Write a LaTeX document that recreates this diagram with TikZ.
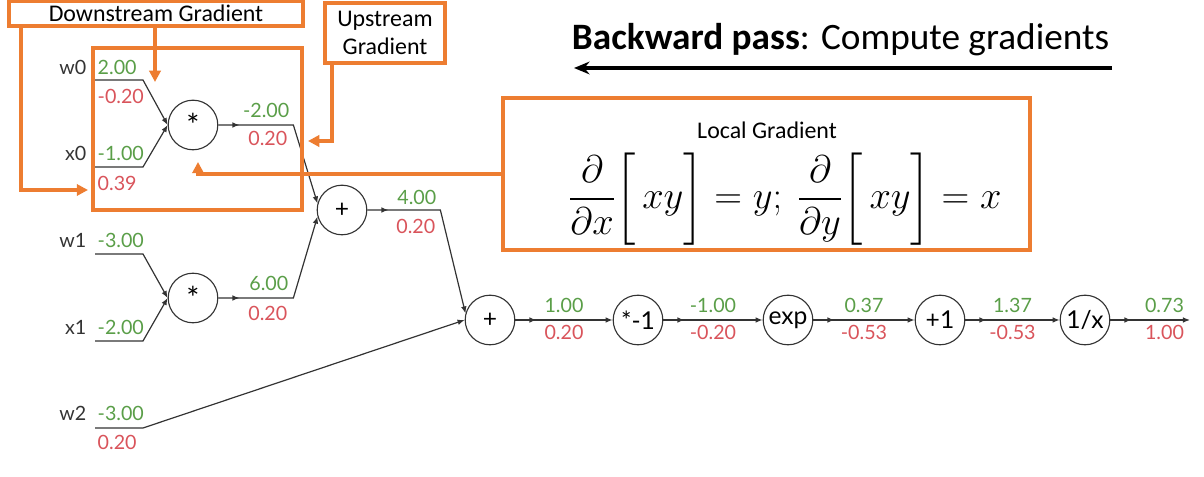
\documentclass[tikz,border=0pt]{standalone}
\usepackage{amsmath}
\usepackage{graphicx}
\usepackage{fontspec}
\setmainfont{Carlito}
\newfontfamily\graphfont{Lato}
\usepackage{tikz}
\usetikzlibrary{arrows.meta,positioning,calc,decorations.markings}
\definecolor{gradorange}{HTML}{ED7D31}
\definecolor{fwdgreen}{HTML}{5A9E48}
\definecolor{bwdred}{HTML}{D9545B}
\definecolor{wiregray}{HTML}{333333}
\newcommand{\brxy}{\mathopen{\smash{\biggl[}}\,xy\mathclose{\smash{\biggr]}}}

\begin{document}
\begin{tikzpicture}[
    x=0.025cm, y=-0.025cm,
    >={Latex[length=5pt,width=4pt]},
    every node/.style={font=\graphfont\fontsize{14}{16}\selectfont},
    gate/.style={circle, draw=wiregray, line width=0.8pt, minimum size=1.24cm, inner sep=0pt, font=\graphfont\fontsize{17.5}{20}\selectfont},
    varname/.style={text=wiregray, anchor=east, inner sep=1pt},
    fwd/.style={text=fwdgreen, inner sep=1pt},
    bwd/.style={text=bwdred, inner sep=1pt},
    wire/.style={draw=wiregray, line width=0.85pt, ->},
    outwire/.style={wire, postaction={decorate},
        decoration={markings, mark=at position 15pt with {\arrow{>}}}},
    callout/.style={draw=gradorange, line width=2.6pt, inner sep=0pt, text=black,
        font=\fontsize{17}{20.5}\selectfont},
    calloutarrow/.style={draw=gradorange, line width=2.6pt, -{Triangle[length=8pt,width=8pt]}}
]
\useasboundingbox (0,0) rectangle (1204,477);

% inputs
\node[varname] (w0) at (88,67) {w0};
\node[varname] (x0) at (88,153) {x0};
\node[varname] (w1) at (88,240) {w1};
\node[varname] (x1) at (88,327) {x1};
\node[varname] (w2) at (88,413) {w2};

\coordinate (w0s) at (95,80);
\coordinate (x0s) at (95,167);
\coordinate (w1s) at (95,254);
\coordinate (x1s) at (95,341);
\coordinate (w2s) at (95,428);

\node[fwd, anchor=west] (w0f) at (96,67) {2.00};
\node[bwd, anchor=west] (w0b) at (96,96) {-0.20};
\node[fwd, anchor=west] (x0f) at (96,153) {-1.00};
\node[bwd, anchor=west] (x0b) at (96,183) {0.39};
\node[fwd, anchor=west] (w1f) at (96,240) {-3.00};
\node[fwd, anchor=west] (x1f) at (96,327) {-2.00};
\node[fwd, anchor=west] (w2f) at (96,413) {-3.00};
\node[bwd, anchor=west] (w2b) at (96,442) {0.20};

% gates
\node[gate] (mul0) at (193,125) {\raisebox{-3pt}{\fontsize{22}{22}\selectfont *}};
\node[gate] (mul1) at (193,298) {\raisebox{-3pt}{\fontsize{22}{22}\selectfont *}};
\node[gate] (add0) at (342,210) {+};
\node[gate] (add1) at (490,320) {+};
\node[gate] (neg)  at (638,320) {*-1};
\node[gate] (expg) at (788,320) {exp};
\node[gate] (inc)  at (940,320) {+1};
\node[gate] (inv)  at (1085,320) {1/x};
\coordinate (out) at (1190,320);

\draw[wire] (w0s) -- ++(48,0) -- (mul0.west);
\draw[wire] (x0s) -- ++(48,0) -- (mul0.west);
\draw[wire] (w1s) -- ++(48,0) -- (mul1.west);
\draw[wire] (x1s) -- ++(48,0) -- (mul1.west);
\draw[wire] (w2s) -- ++(48,0) -- (add1.west);

\draw[outwire] (mul0.east) -- ++(75,0) -- (add0.165);
\draw[outwire] (mul1.east) -- ++(75,0) -- (add0.195);
\draw[outwire] (add0.east) -- ++(73,0) -- (add1.165);

\node[fwd, anchor=east] (m0f) at (291,110) {-2.00};
\node[bwd, anchor=east] (m0b) at (289,138) {0.20};
\node[fwd, anchor=east] (m1f) at (290,283) {6.00};
\node[bwd, anchor=east] (m1b) at (289,313) {0.20};
\node[fwd, anchor=east] (a0f) at (438,197) {4.00};
\node[bwd, anchor=east] (a0b) at (437,226) {0.20};

\draw[outwire] (add1) -- (neg)
    node[fwd, midway, yshift=10.5pt] (a1f) {1.00} node[bwd, midway, yshift=-9pt] (a1b) {0.20};
\draw[outwire] (neg) -- (expg)
    node[fwd, midway, yshift=10.5pt] (nf) {-1.00} node[bwd, midway, yshift=-9pt] (nb) {-0.20};
\draw[outwire] (expg) -- (inc)
    node[fwd, midway, yshift=10.5pt] (ef) {0.37} node[bwd, midway, yshift=-9pt] (eb) {-0.53};
\draw[outwire] (inc) -- (inv)
    node[fwd, midway, yshift=10.5pt] (if) {1.37} node[bwd, midway, yshift=-9pt] (ib) {-0.53};
\draw[outwire] (inv) -- (out)
    node[fwd, pos=0.68, yshift=10.5pt] (vf) {0.73} node[bwd, pos=0.68, yshift=-9pt] (vb) {1.00};

% title
\node[anchor=west, font=\fontsize{26.5}{30}\selectfont] (title) at (567,40)
    {\textbf{Backward pass}: Compute gradients};
\coordinate (bpR) at (1112,68);
\coordinate (bpL) at (574,68);
\draw[line width=2.2pt, -{Stealth[length=11pt,width=9pt]}] (bpR) -- (bpL);

% callouts
\node[callout, minimum width=5.225cm, minimum height=4.05cm] (focus) at (197.5,129) {};
\node[callout, minimum width=7.35cm, minimum height=0.625cm] (downbox) at (156,13.5) {Downstream Gradient};
\node[callout, minimum width=3cm, minimum height=1.5cm, align=center] (upbox) at (385,33) {Upstream\\Gradient};
\node[callout, minimum width=13.175cm, minimum height=3.8cm] (localbox) at (766.5,174) {};
\node[inner sep=0pt, font=\fontsize{17}{20}\selectfont] (localtitle) at (767,130) {Local Gradient};
\node[inner sep=0pt, font=\fontsize{24.88}{30}\selectfont] (localeq) at (785,199)
    {\scalebox{1.1}{$\displaystyle \frac{\partial}{\partial x}\brxy = y;\ \frac{\partial}{\partial y}\brxy = x$}};

\coordinate (w0hint) at (155,82);
\coordinate (x0hint) at (88,190);
\coordinate (outhint) at (308,141);
\coordinate (mulhint) at (198,162);
\draw[calloutarrow] (downbox.south -| w0hint) -- (w0hint);
\draw[calloutarrow] (downbox.south west) ++(14,0) |- (x0hint);
\draw[calloutarrow] (upbox.south west) ++(9,0) |- (outhint);
\draw[calloutarrow] (localbox.west) -| (mulhint);

\end{tikzpicture}
\end{document}
